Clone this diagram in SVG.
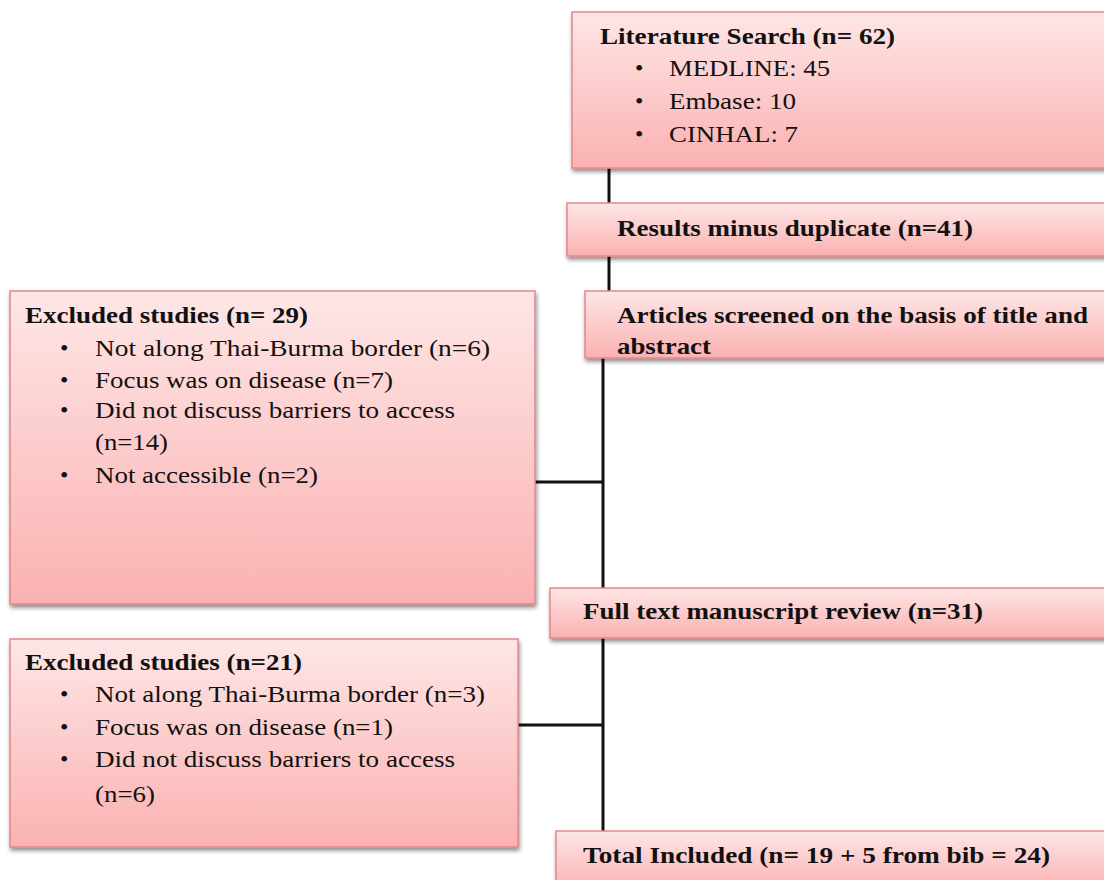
<svg xmlns="http://www.w3.org/2000/svg" width="1104" height="880" viewBox="0 0 1104 880">
<defs>
<linearGradient id="g" x1="0" y1="0" x2="0" y2="1">
<stop offset="0" stop-color="#fee6e6"/>
<stop offset="1" stop-color="#fbb1b1"/>
</linearGradient>
<filter id="sh" x="-5%" y="-5%" width="110%" height="120%">
<feGaussianBlur in="SourceAlpha" stdDeviation="2"/>
<feOffset dx="1" dy="3" result="b"/>
<feComponentTransfer><feFuncA type="linear" slope="0.45"/></feComponentTransfer>
<feMerge><feMergeNode/><feMergeNode in="SourceGraphic"/></feMerge>
</filter>
</defs>
<style>
.box{fill:url(#g);stroke:#e2878a;stroke-width:1.5;filter:url(#sh)}
.t{font-family:"Liberation Serif","Times New Roman",serif;font-size:24px;fill:#111}
.b{font-weight:bold}
.c{stroke:#111;stroke-width:3;fill:none}
</style>
<rect width="1104" height="880" fill="#fff"/>
<g id="connectors">
<line class="c" x1="609" y1="168" x2="609" y2="203"/>
<line class="c" x1="609" y1="256" x2="609" y2="291"/>
<line class="c" x1="603" y1="358" x2="603" y2="588"/>
<line class="c" x1="535" y1="482" x2="603" y2="482"/>
<line class="c" x1="603" y1="638" x2="603" y2="831"/>
<line class="c" x1="518" y1="725" x2="603" y2="725"/>
</g>
<g id="n1">
<rect class="box" x="572" y="12" width="545" height="156"/>
<text class="t b" x="600" y="44" textLength="295" lengthAdjust="spacingAndGlyphs">Literature Search (n= 62)</text>
<text class="t" x="635" y="76">•</text><text class="t" x="669" y="76" textLength="161" lengthAdjust="spacingAndGlyphs">MEDLINE: 45</text>
<text class="t" x="635" y="109">•</text><text class="t" x="669" y="109" textLength="127" lengthAdjust="spacingAndGlyphs">Embase: 10</text>
<text class="t" x="635" y="142">•</text><text class="t" x="669" y="142" textLength="129" lengthAdjust="spacingAndGlyphs">CINHAL: 7</text>
</g>
<g id="n2">
<rect class="box" x="567" y="203" width="550" height="53"/>
<text class="t b" x="617" y="236" textLength="356" lengthAdjust="spacingAndGlyphs">Results minus duplicate (n=41)</text>
</g>
<g id="n3">
<rect class="box" x="585" y="291" width="532" height="67"/>
<text class="t b" x="617" y="323" textLength="471" lengthAdjust="spacingAndGlyphs">Articles screened on the basis of title and</text>
<text class="t b" x="617" y="354" textLength="94" lengthAdjust="spacingAndGlyphs">abstract</text>
</g>
<g id="n4">
<rect class="box" x="10" y="291" width="525" height="313"/>
<text class="t b" x="25" y="323" textLength="283" lengthAdjust="spacingAndGlyphs">Excluded studies (n= 29)</text>
<text class="t" x="60" y="356">•</text><text class="t" x="95" y="356" textLength="395" lengthAdjust="spacingAndGlyphs">Not along Thai-Burma border (n=6)</text>
<text class="t" x="60" y="388">•</text><text class="t" x="95" y="388" textLength="298" lengthAdjust="spacingAndGlyphs">Focus was on disease (n=7)</text>
<text class="t" x="60" y="418">•</text><text class="t" x="95" y="418" textLength="360" lengthAdjust="spacingAndGlyphs">Did not discuss barriers to access</text>
<text class="t" x="95" y="450" textLength="73" lengthAdjust="spacingAndGlyphs">(n=14)</text>
<text class="t" x="60" y="483">•</text><text class="t" x="95" y="483" textLength="223" lengthAdjust="spacingAndGlyphs">Not accessible (n=2)</text>
</g>
<g id="n5">
<rect class="box" x="550" y="588" width="567" height="50"/>
<text class="t b" x="583" y="619" textLength="400" lengthAdjust="spacingAndGlyphs">Full text manuscript review (n=31)</text>
</g>
<g id="n6">
<rect class="box" x="10" y="639" width="508" height="208"/>
<text class="t b" x="25" y="670" textLength="277" lengthAdjust="spacingAndGlyphs">Excluded studies (n=21)</text>
<text class="t" x="60" y="702">•</text><text class="t" x="95" y="702" textLength="390" lengthAdjust="spacingAndGlyphs">Not along Thai-Burma border (n=3)</text>
<text class="t" x="60" y="735">•</text><text class="t" x="95" y="735" textLength="298" lengthAdjust="spacingAndGlyphs">Focus was on disease (n=1)</text>
<text class="t" x="60" y="767">•</text><text class="t" x="95" y="767" textLength="360" lengthAdjust="spacingAndGlyphs">Did not discuss barriers to access</text>
<text class="t" x="95" y="802" textLength="60" lengthAdjust="spacingAndGlyphs">(n=6)</text>
</g>
<g id="n7">
<rect class="box" x="556" y="831" width="561" height="60"/>
<text class="t b" x="583" y="863" textLength="467" lengthAdjust="spacingAndGlyphs">Total Included (n= 19 + 5 from bib = 24)</text>
</g>
</svg>
